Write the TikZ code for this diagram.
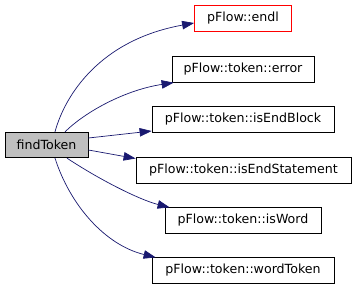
\documentclass[tikz,border=0pt]{standalone}
\usepackage{fontspec}
\setmainfont{DejaVu Sans}
\usetikzlibrary{arrows.meta}
\definecolor{edgeblue}{HTML}{191970}
\definecolor{rootgray}{HTML}{BFBFBF}
\begin{document}
\begin{tikzpicture}[x=1pt,y=-1pt,
  fnbox/.style={draw=black,line width=0.8pt,minimum height=25.5pt,inner sep=0pt,
    font=\fontsize{12.6}{14}\selectfont},
  call/.style={draw=edgeblue,line width=0.7pt,
    -{Triangle[length=12pt,width=8.5pt,fill=edgeblue]}}]
\useasboundingbox (0,0) rectangle (356,291);
\fill[white] (0,0) rectangle (356,291);
% caller
\node[fnbox,fill=rootgray,minimum width=83pt] (ft) at (46.5,145) {findToken};
% callees
\node[fnbox,draw=red,minimum width=97pt] (endl) at (243,18.5) {pFlow::endl};
\node[fnbox,minimum width=142pt] (err) at (243,69.5) {pFlow::token::error};
\node[fnbox,minimum width=182pt] (eb) at (243,119.5) {pFlow::token::isEndBlock};
\node[fnbox,minimum width=215pt] (es) at (243.5,170.5) {pFlow::token::isEndStatement};
\node[fnbox,minimum width=156pt] (iw) at (243,220.5) {pFlow::token::isWord};
\node[fnbox,minimum width=182pt] (wt) at (243,270.5) {pFlow::token::wordToken};
% calls
\draw[call] ([xshift=8.5pt]ft.north) .. controls (65,95) and (100,40) .. ([yshift=-4.5pt]endl.west);
\draw[call] ([xshift=18.5pt]ft.north) .. controls (85,112) and (125,90) .. ([xshift=2pt]err.south west);
\draw[call] ([yshift=7pt]ft.east) -- ([yshift=-11.5pt]eb.west);
\draw[call] ([yshift=-5pt]ft.east) -- ([yshift=12pt]es.west);
\draw[call] ([xshift=20.5pt]ft.south) .. controls (100,180) and (140,200) .. ([xshift=5pt]iw.north west);
\draw[call] ([xshift=8.5pt]ft.south) .. controls (70,205) and (105,245) .. ([xshift=4pt]wt.north west);
\end{tikzpicture}
\end{document}
